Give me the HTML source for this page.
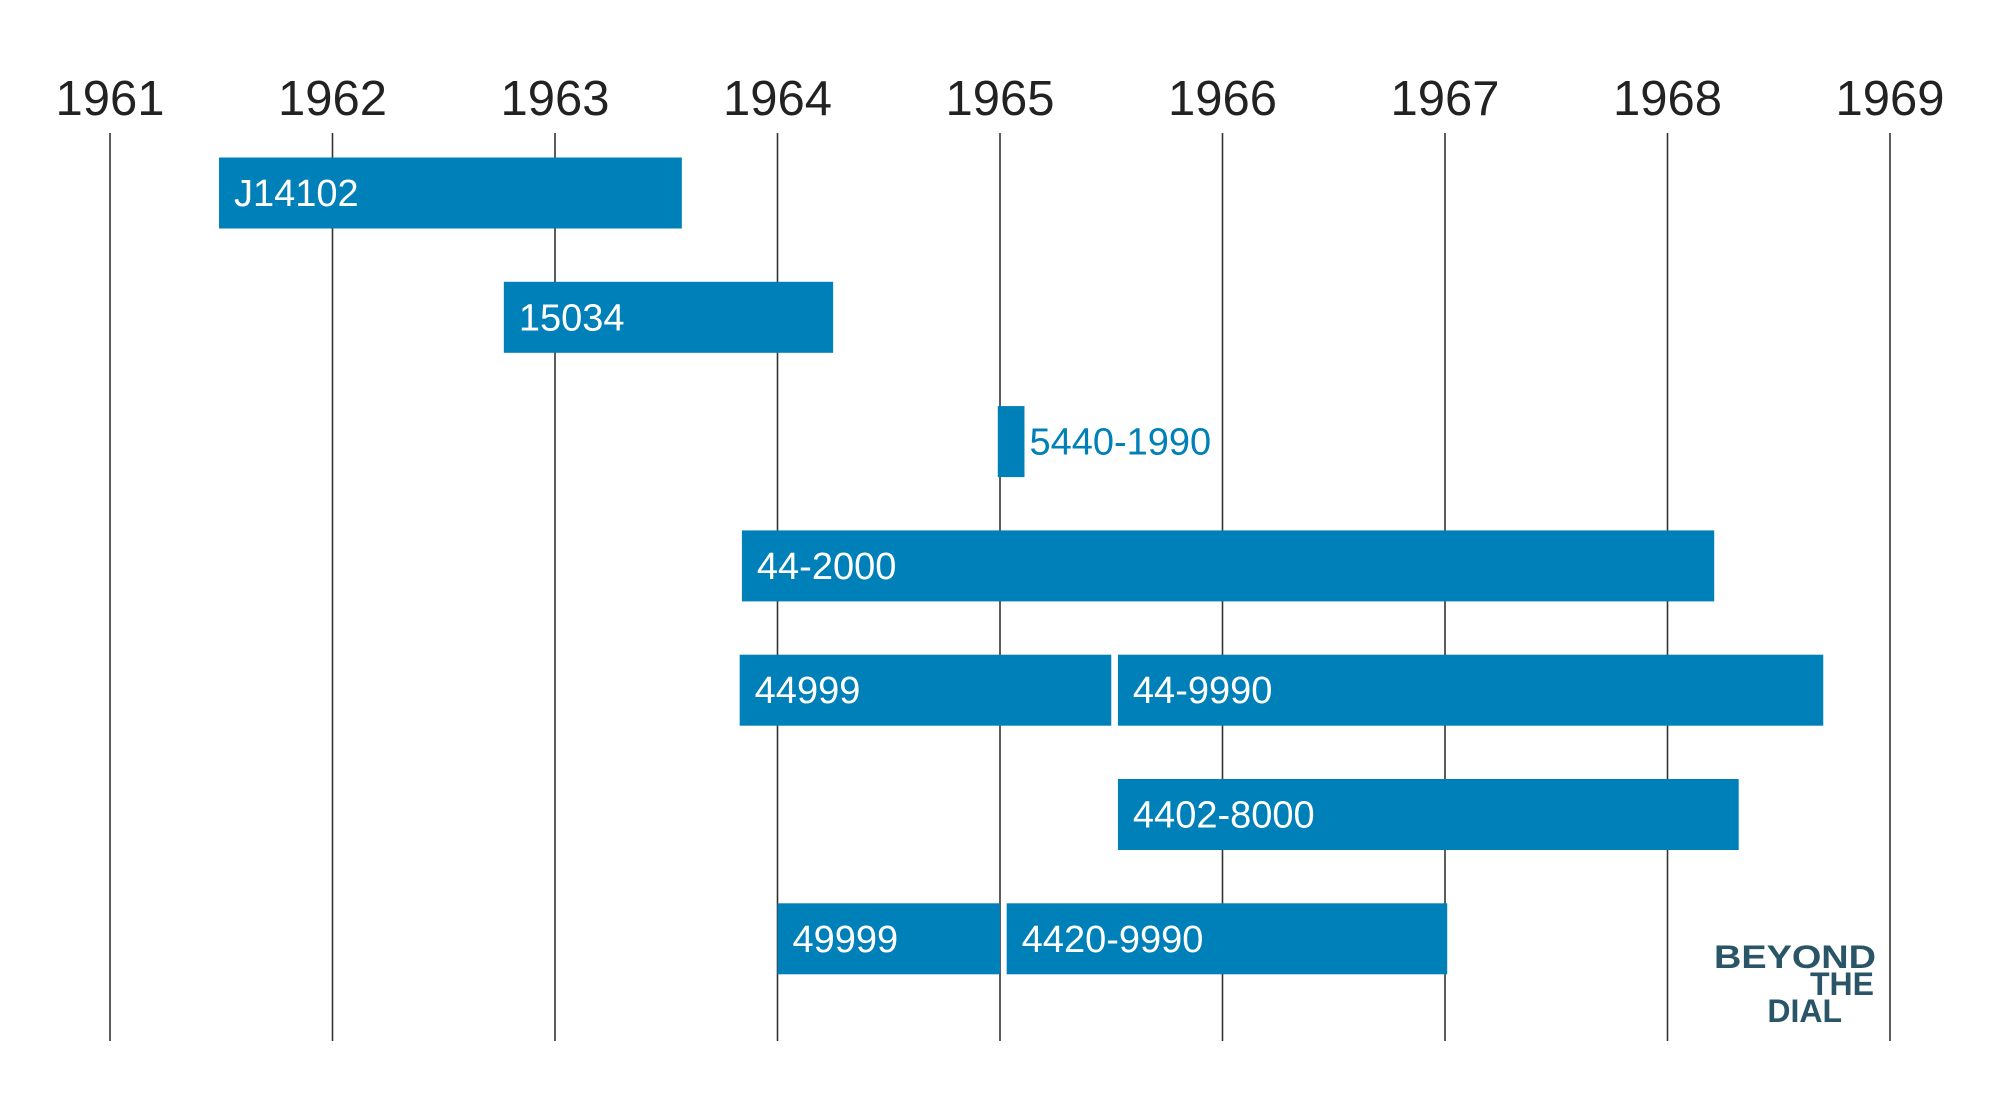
<!DOCTYPE html>
<html><head><meta charset="utf-8"><style>
html,body{margin:0;padding:0;background:#fff;}
svg{display:block;font-family:"Liberation Sans",sans-serif;}
</style></head><body>
<svg id="chart" width="2000" height="1116" viewBox="0 0 2000 1116">
<g id="grid"></g>
<g id="bars"></g>
<g fill="#2a5566" font-size="32" font-weight="bold" text-anchor="end">
<text x="1876" y="968" textLength="162" lengthAdjust="spacingAndGlyphs">BEYOND</text>
<text x="1874" y="995">THE</text>
<text x="1842" y="1022">DIAL</text>
</g>
</svg>
<script>
const years = [1961,1962,1963,1964,1965,1966,1967,1968,1969];
const labels = ["J14102","15034","5440-1990","44-2000","44999","44-9990","4402-8000","49999","4420-9990"];
const rows = [0,1,2,3,4,4,5,6,6];
const starts = [1961.49,1962.77,1964.99,1963.84,1963.83,1965.53,1965.53,1964.0,1965.03];
const ends = [1963.57,1964.25,1965.11,1968.21,1965.50,1968.70,1968.32,1965.0,1967.01];
const NS="http://www.w3.org/2000/svg";
function x(y){return 110+(y-1961)*222.5;}
function rowY(r){return 193+r*124.3;}
const BH=71;
const grid=document.getElementById('grid');
years.forEach(yr=>{
  const l=document.createElementNS(NS,'line');
  
  
  l.setAttribute('x1',x(yr));l.setAttribute('x2',x(yr));
  l.setAttribute('y1',133);l.setAttribute('y2',1041);
  l.setAttribute('stroke','#333');l.setAttribute('stroke-width','1.6');
  grid.appendChild(l);
  const t=document.createElementNS(NS,'text');
  
  
  t.setAttribute('x',x(yr));t.setAttribute('y',115);
  t.setAttribute('text-anchor','middle');t.setAttribute('font-size','49');
  t.setAttribute('fill','#222');
  t.textContent=yr;
  grid.appendChild(t);
});
const bars=document.getElementById('bars');
labels.forEach((lab,i)=>{
  const x0=x(starts[i]),x1=x(ends[i]),cy=rowY(rows[i]);
  const r=document.createElementNS(NS,'rect');
  
  
  r.setAttribute('x',x0);r.setAttribute('y',cy-BH/2);
  r.setAttribute('width',x1-x0);r.setAttribute('height',BH);
  r.setAttribute('fill','#0080b8');
  bars.appendChild(r);
  const t=document.createElementNS(NS,'text');
  
  
  const inside=(x1-x0)>100;
  t.setAttribute('x',inside?x0+15:x1+5);
  t.setAttribute('y',cy+13);
  t.setAttribute('font-size','38');
  t.setAttribute('fill',inside?'#fff':'#0080b8');
  t.textContent=lab;
  bars.appendChild(t);
});
</script>
</body></html>
